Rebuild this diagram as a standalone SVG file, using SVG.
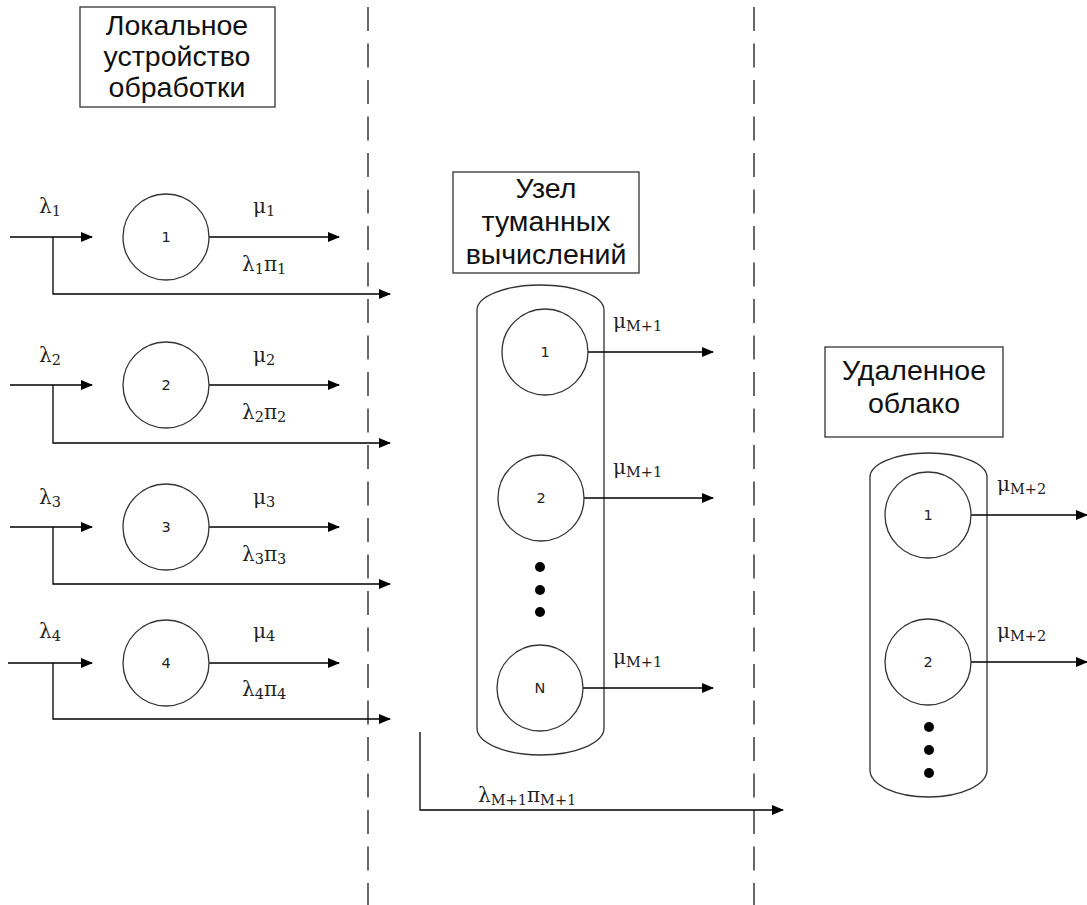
<svg xmlns="http://www.w3.org/2000/svg" width="1087" height="905" viewBox="0 0 1087 905">
<style>
.ln{fill:none;stroke:#000;stroke-width:1.3}
.dash{fill:none;stroke:#444;stroke-width:1.6;stroke-dasharray:24 12.5}
.nd{fill:#fff;stroke:#333;stroke-width:1.3}
.box{fill:#fff;stroke:#333;stroke-width:1.3}
.bt{font-family:"Liberation Sans",Arial,sans-serif;font-size:28.5px;fill:#111;text-anchor:middle}
.nt{font-family:"DejaVu Sans",Verdana,sans-serif;font-size:14.5px;fill:#222;text-anchor:middle;dominant-baseline:central}
.gl{font-family:"DejaVu Serif","Liberation Serif",serif;font-size:20px;fill:#222}
.sb{font-size:14.5px}
.dot{fill:#000}
</style>
<defs>
<marker id="ah" markerWidth="12" markerHeight="10" refX="11" refY="5" orient="auto" markerUnits="userSpaceOnUse">
<path d="M0,0 L12,5 L0,10 Z" fill="#000"/>
</marker>
</defs>

<g id="dividers">
<line class="dash" x1="368" y1="7" x2="368" y2="905"/>
<line class="dash" x1="754" y1="7" x2="754" y2="905"/>
</g>

<g id="label-local">
<rect class="box" x="80" y="7" width="195" height="100"/>
<text class="bt" x="177" y="35">Локальное</text>
<text class="bt" x="177" y="66">устройство</text>
<text class="bt" x="177" y="97">обработки</text>
</g>

<g id="label-fog">
<rect class="box" x="453" y="172" width="186" height="101"/>
<text class="bt" x="546" y="198">Узел</text>
<text class="bt" x="546" y="231">туманных</text>
<text class="bt" x="546" y="264">вычислений</text>
</g>

<g id="label-cloud">
<rect class="box" x="825" y="347" width="178" height="90"/>
<text class="bt" x="914" y="380">Удаленное</text>
<text class="bt" x="914" y="413">облако</text>
</g>

<g id="fog-container">
<path class="nd" d="M477,310 A63.5,25 0 0 1 604,310 L604,728 A63.5,27 0 0 1 477,728 Z"/>
</g>
<g id="cloud-container">
<path class="nd" d="M870,477 A58.5,24 0 0 1 987,477 L987,770 A58.5,27 0 0 1 870,770 Z"/>
</g>

<g id="connectors">
<line class="ln" x1="10" y1="237" x2="92" y2="237" marker-end="url(#ah)"/>
<polyline class="ln" points="53,237 53,294 390,294" marker-end="url(#ah)"/>
<line class="ln" x1="209" y1="237" x2="339" y2="237" marker-end="url(#ah)"/>
<line class="ln" x1="10" y1="385" x2="92" y2="385" marker-end="url(#ah)"/>
<polyline class="ln" points="53,385 53,443 390,443" marker-end="url(#ah)"/>
<line class="ln" x1="209" y1="385" x2="339" y2="385" marker-end="url(#ah)"/>
<line class="ln" x1="10" y1="527" x2="92" y2="527" marker-end="url(#ah)"/>
<polyline class="ln" points="53,527 53,584 390,584" marker-end="url(#ah)"/>
<line class="ln" x1="209" y1="527" x2="339" y2="527" marker-end="url(#ah)"/>
<line class="ln" x1="8" y1="663" x2="92" y2="663" marker-end="url(#ah)"/>
<polyline class="ln" points="53,663 53,719 390,719" marker-end="url(#ah)"/>
<line class="ln" x1="209" y1="663" x2="339" y2="663" marker-end="url(#ah)"/>
<line class="ln" x1="588" y1="352" x2="713" y2="352" marker-end="url(#ah)"/>
<line class="ln" x1="584" y1="498" x2="713" y2="498" marker-end="url(#ah)"/>
<line class="ln" x1="583" y1="688" x2="713" y2="688" marker-end="url(#ah)"/>
<polyline class="ln" points="420,732 420,810 783,810" marker-end="url(#ah)"/>
<line class="ln" x1="971" y1="515" x2="1087" y2="515" marker-end="url(#ah)"/>
<line class="ln" x1="971" y1="662" x2="1087" y2="662" marker-end="url(#ah)"/>
</g>

<g id="node-local-1"><circle class="nd" cx="166" cy="237" r="43"/><text class="nt" x="166" y="237">1</text></g>
<g id="node-local-2"><circle class="nd" cx="166" cy="385" r="43"/><text class="nt" x="166" y="385">2</text></g>
<g id="node-local-3"><circle class="nd" cx="166" cy="527" r="43"/><text class="nt" x="166" y="527">3</text></g>
<g id="node-local-4"><circle class="nd" cx="166" cy="663" r="43"/><text class="nt" x="166" y="663">4</text></g>

<g id="node-fog-1"><circle class="nd" cx="545" cy="352" r="43"/><text class="nt" x="545" y="352">1</text></g>
<g id="node-fog-2"><circle class="nd" cx="541" cy="498" r="43"/><text class="nt" x="541" y="498">2</text></g>
<g id="node-fog-N"><circle class="nd" cx="540" cy="688" r="43"/><text class="nt" x="540" y="688">N</text></g>
<g id="fog-dots">
<circle class="dot" cx="540" cy="567" r="5"/>
<circle class="dot" cx="540" cy="590" r="5"/>
<circle class="dot" cx="540" cy="612" r="5"/>
</g>

<g id="node-cloud-1"><circle class="nd" cx="928" cy="515" r="43"/><text class="nt" x="928" y="515">1</text></g>
<g id="node-cloud-2"><circle class="nd" cx="928" cy="662" r="43"/><text class="nt" x="928" y="662">2</text></g>
<g id="cloud-dots">
<circle class="dot" cx="929" cy="727" r="5"/>
<circle class="dot" cx="929" cy="750" r="5"/>
<circle class="dot" cx="929" cy="773" r="5"/>
</g>

<g id="labels">
<text class="gl" x="39" y="213">λ<tspan class="sb" dy="3">1</tspan></text>
<text class="gl" x="253" y="213">μ<tspan class="sb" dy="3">1</tspan></text>
<text class="gl" x="242" y="271">λ<tspan class="sb" dy="3">1</tspan><tspan dy="-3">π</tspan><tspan class="sb" dy="3">1</tspan></text>

<text class="gl" x="39" y="362">λ<tspan class="sb" dy="3">2</tspan></text>
<text class="gl" x="253" y="362">μ<tspan class="sb" dy="3">2</tspan></text>
<text class="gl" x="242" y="419">λ<tspan class="sb" dy="3">2</tspan><tspan dy="-3">π</tspan><tspan class="sb" dy="3">2</tspan></text>

<text class="gl" x="39" y="504">λ<tspan class="sb" dy="3">3</tspan></text>
<text class="gl" x="253" y="504">μ<tspan class="sb" dy="3">3</tspan></text>
<text class="gl" x="242" y="561">λ<tspan class="sb" dy="3">3</tspan><tspan dy="-3">π</tspan><tspan class="sb" dy="3">3</tspan></text>

<text class="gl" x="39" y="638">λ<tspan class="sb" dy="3">4</tspan></text>
<text class="gl" x="253" y="638">μ<tspan class="sb" dy="3">4</tspan></text>
<text class="gl" x="242" y="696">λ<tspan class="sb" dy="3">4</tspan><tspan dy="-3">π</tspan><tspan class="sb" dy="3">4</tspan></text>

<text class="gl" x="613" y="328">μ<tspan class="sb" dy="3">M+1</tspan></text>
<text class="gl" x="613" y="474">μ<tspan class="sb" dy="3">M+1</tspan></text>
<text class="gl" x="613" y="664">μ<tspan class="sb" dy="3">M+1</tspan></text>

<text class="gl" x="478" y="802">λ<tspan class="sb" dy="3">M+1</tspan><tspan dy="-3">π</tspan><tspan class="sb" dy="3">M+1</tspan></text>

<text class="gl" x="997" y="491">μ<tspan class="sb" dy="3">M+2</tspan></text>
<text class="gl" x="997" y="638">μ<tspan class="sb" dy="3">M+2</tspan></text>
</g>
</svg>
